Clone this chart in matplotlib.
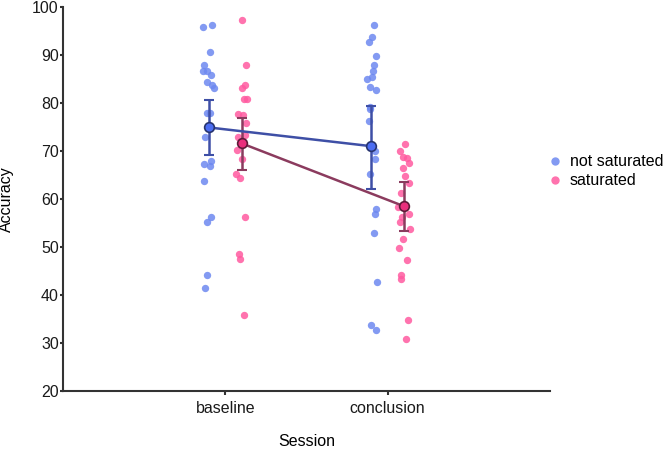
import matplotlib
matplotlib.use("Agg")
import matplotlib.pyplot as plt
from matplotlib.lines import Line2D
import numpy as np

plt.rcParams['font.family'] = ['Liberation Sans', 'DejaVu Sans']
plt.rcParams['font.size'] = 11.5

sessions = ["baseline", "conclusion"]
groups = ["not saturated", "saturated"]

# individual accuracy values
ns_baseline = [95.9, 96.3, 90.7, 87.9, 86.7, 86.7, 85.8, 84.4, 83.75, 83.2, 77.9, 77.9,
               72.9, 67.3, 67.9, 66.9, 63.8, 56.3, 55.2, 44.2, 41.5]
ns_baseline_jit = [-0.04, 0.02, 0.008, -0.03, -0.04, -0.016, 0.014, -0.016, 0.02, 0.032,
                   -0.016, 0.008, -0.023, -0.03, 0.014, 0.008, -0.03, 0.014, -0.016, -0.01, -0.025]
s_baseline = [97.2, 87.9, 83.7, 83.2, 80.9, 80.9, 77.8, 77.4, 75.8, 73.3, 73.0, 70.3,
              68.4, 65.2, 64.3, 56.3, 48.5, 47.6, 35.8]
s_baseline_jit = [0.0, 0.03, 0.022, 0.0, 0.016, 0.034, -0.02, 0.006, 0.03, 0.02, -0.02, -0.03,
                  0.0, -0.035, -0.012, 0.02, -0.015, -0.007, 0.014]
ns_conclusion = [96.3, 93.8, 92.8, 89.8, 87.9, 86.7, 85.4, 84.9, 83.3, 82.8, 79.2, 78.75,
                 76.25, 69.9, 68.3, 65.2, 57.9, 56.8, 52.85, 42.8, 33.75, 32.7]
ns_conclusion_jit = [0.014, 0.002, -0.018, 0.03, 0.014, 0.008, 0.002, -0.026, -0.006, 0.03,
                     -0.006, -0.01, -0.012, 0.025, 0.025, -0.006, 0.03, 0.02, 0.014, 0.037, 0.0, 0.03]
s_conclusion = [71.4, 69.9, 68.8, 68.5, 67.4, 66.4, 64.8, 63.4, 61.3, 58.3, 56.8, 56.3,
                55.3, 53.8, 51.7, 49.8, 47.2, 44.2, 43.3, 34.8, 30.8]
s_conclusion_jit = [0.006, -0.022, -0.008, 0.018, 0.03, -0.004, 0.006, 0.032, -0.018, -0.035,
                    0.032, -0.014, -0.025, 0.037, -0.008, -0.028, 0.018, -0.018, -0.016, 0.024, 0.012]

# summary statistics
ns_means = [74.9, 71.0]
ns_lo = [69.2, 62.1]
ns_hi = [80.6, 79.4]
s_means = [71.6, 58.5]
s_lo = [66.1, 53.4]
s_hi = [76.9, 63.5]

dodge = [-0.1, 0.1]
pt_colors = ["#6d88f0", "#ff5aa0"]
mean_face = ["#4c6df2", "#e92f7c"]
mean_edge = ["#27346f", "#5e1a38"]
line_colors = ["#3e4fa6", "#8b3b5e"]

fig = plt.figure(figsize=(6.64, 4.49), dpi=100)
ax = fig.add_axes([63/664, 1-391/449, (550-63)/664, (391-7)/449])

pts = [[ns_baseline, ns_conclusion], [s_baseline, s_conclusion]]
jits = [[ns_baseline_jit, ns_conclusion_jit], [s_baseline_jit, s_conclusion_jit]]
for g in range(2):
    for i in range(2):
        vals = np.array(pts[g][i])
        x = i + dodge[g] + np.array(jits[g][i])
        ax.scatter(x, vals, s=28, color=pt_colors[g], alpha=0.85, linewidths=0, zorder=2)

summ = [(ns_means, ns_lo, ns_hi), (s_means, s_lo, s_hi)]
for g in range(2):
    m, lo, hi = [np.array(a) for a in summ[g]]
    xs = np.arange(2) + dodge[g]
    ax.errorbar(xs, m, yerr=[m - lo, hi - m], fmt='none', ecolor=line_colors[g],
                elinewidth=1.8, capsize=3.5, capthick=1.5, zorder=3)
    ax.plot(xs, m, color=line_colors[g], lw=1.8, zorder=4)
    ax.plot(xs, m, 'o', ms=7, mfc=mean_face[g], mec=mean_edge[g], mew=1.2, zorder=5)

ax.set_xlim(-1, 2)
ax.set_ylim(20, 100)
ax.set_xticks([0, 1])
ax.set_xticklabels(sessions)
ax.set_yticks(np.arange(20, 101, 10))
ax.set_xlabel("Session", labelpad=13)
ax.set_ylabel("Accuracy", labelpad=13)
for s in ["top", "right"]:
    ax.spines[s].set_visible(False)
for s in ["left", "bottom"]:
    ax.spines[s].set_color("#333333")
    ax.spines[s].set_linewidth(1.5)
ax.tick_params(axis='both', colors="#333333", width=1.5, labelcolor="#1a1a1a")
ax.tick_params(axis='y', length=2, pad=1)
ax.tick_params(axis='x', length=3, pad=4)

handles = [Line2D([], [], marker='o', ls='none', ms=6, color=pt_colors[g], alpha=0.85, mew=0)
           for g in range(2)]
ax.legend(handles, groups, loc='center left', bbox_to_anchor=(0.975, 0.572), frameon=False,
          handletextpad=0.3, labelspacing=0.25, handlelength=1.2, borderpad=0)

fig.savefig("out.png", dpi=100)
